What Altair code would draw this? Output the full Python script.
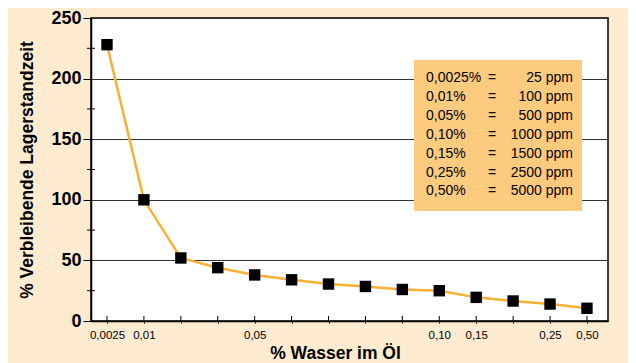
import altair as alt
import pandas as pd

# ---- data ----
x_index = list(range(14))
x_labels = ["0,0025", "0,01", "", "", "0,05", "", "", "", "", "0,10", "0,15", "", "0,25", "0,50"]
life = [228, 100, 52, 44, 38, 34, 30.5, 28.5, 26, 25, 19.5, 16.5, 14, 10.5]
y_major = [0, 50, 100, 150, 200, 250]
y_minor = [25, 75, 125, 175, 225]
pct = ["0,0025%", "0,01%", "0,05%", "0,10%", "0,15%", "0,25%", "0,50%"]
ppm = ["25 ppm", "100 ppm", "500 ppm", "1000 ppm", "1500 ppm", "2500 ppm", "5000 ppm"]

BG = "#FEEBD0"
BOX = "#FCCB7E"
LINE = "#F8B133"
FONT = "Liberation Sans"

df = pd.DataFrame({"i": x_index, "v": life})
df_minor = pd.DataFrame({"v": y_minor})
df_leg = pd.DataFrame({"row": list(range(len(pct))), "pct": pct, "ppm": ppm, "eq": ["="] * len(pct)})

label_expr = "[" + ",".join("'" + s + "'" for s in x_labels) + "][datum.value]"

xscale = alt.Scale(domain=[-0.433, 13.57], nice=False, zero=False)
yscale = alt.Scale(domain=[0, 250], nice=False)

x_axis = alt.Axis(
    values=x_index, labelExpr=label_expr, title="% Wasser im Öl",
    grid=False, tickSize=2, tickColor="black", domainColor="black", domainWidth=1.5,
    labelFontSize=11.5, labelFont=FONT, labelColor="black", labelPadding=6,
    titleFont=FONT, titleFontSize=17.5, titleFontWeight="bold", titleColor="black",
    titleX=244, titlePadding=4,
)
y_axis = alt.Axis(
    values=y_major, title="% Verbleibende Lagerstandzeit",
    grid=True, gridColor="#333333", gridWidth=1.2,
    tickSize=8, tickColor="black", domainColor="black", domainWidth=1.5,
    labelFontSize=18, labelFont=FONT, labelFontWeight="bold", labelColor="black", labelPadding=2,
    titleFont=FONT, titleFontSize=17.5, titleFontWeight="bold", titleColor="black", titlePadding=14,
)

X = alt.X("i:Q", scale=xscale, axis=x_axis)
Y = alt.Y("v:Q", scale=yscale, axis=y_axis)

base = alt.Chart(df)
line = base.mark_line(color=LINE, strokeWidth=2.5).encode(x=X, y=Y)
pts = base.mark_square(color="black", size=130, opacity=1).encode(x=X, y=Y)
xticks_in = base.mark_rule(color="black", strokeWidth=1).encode(
    x=X, y=alt.value(298), y2=alt.value(303),
)
yminor = alt.Chart(df_minor).mark_rule(color="black", strokeWidth=1).encode(
    y=Y, x=alt.value(-4), x2=alt.value(4),
)
box = alt.Chart(df_leg).mark_rect(color=BOX).encode(
    x=alt.value(323), x2=alt.value(491), y=alt.value(42), y2=alt.value(193),
)
leg_base = alt.Chart(df_leg).transform_calculate(v="250 * (303 - 60 - datum.row * 18.9) / 303")
txt = dict(baseline="middle", font=FONT, fontSize=14, color="black")
leg_pct = leg_base.mark_text(align="left", **txt).encode(x=alt.value(335), y=Y, text="pct:N")
leg_eq = leg_base.mark_text(align="center", **txt).encode(x=alt.value(401), y=Y, text="eq:N")
leg_ppm = leg_base.mark_text(align="right", **txt).encode(x=alt.value(482), y=Y, text="ppm:N")

chart = alt.layer(line, box, leg_pct, leg_eq, leg_ppm, xticks_in, yminor, pts).properties(
    width=517, height=303,
    background=BG,
    padding={"left": 83, "top": 10, "right": 20, "bottom": 42},
    autosize=alt.AutoSizeParams(type="none"),
).configure_view(
    fill="white", stroke="black", strokeWidth=1.5,
)

chart.save("out.html", embed_options={"renderer": "svg", "actions": False})
